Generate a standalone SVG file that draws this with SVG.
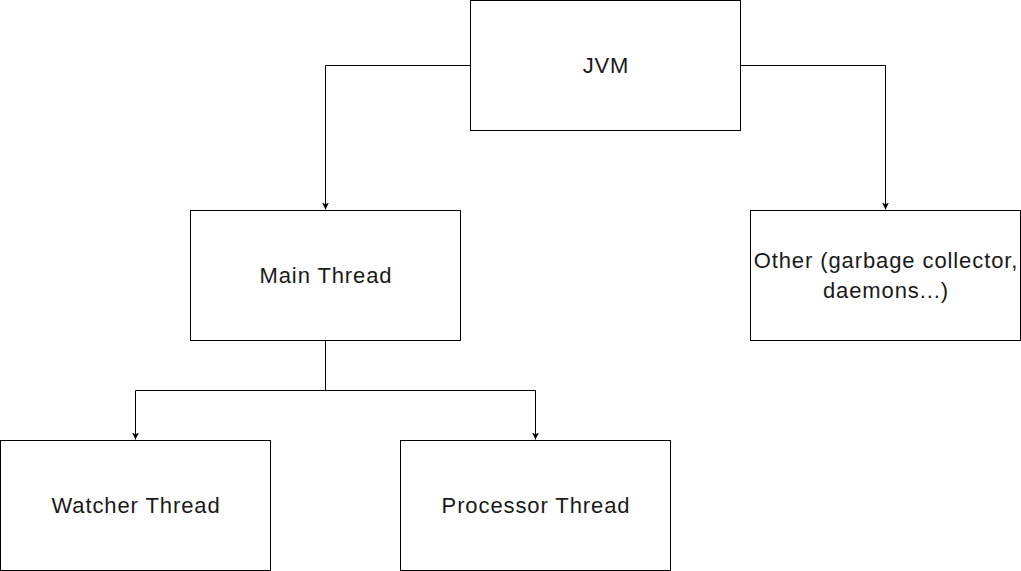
<svg xmlns="http://www.w3.org/2000/svg" width="1021" height="571" viewBox="0 0 1021 571">
<style>
.box{fill:#fff;stroke:#000;stroke-width:1}
.lbl{font-family:"Liberation Sans",Arial,Helvetica,sans-serif;font-size:22px;letter-spacing:0.9px;fill:#1a1a1a;text-anchor:middle}
.edge{fill:none;stroke:#000;stroke-width:1}
</style>
<defs>
<marker id="arr" viewBox="0 0 10 10" refX="10" refY="5" markerWidth="7" markerHeight="7" markerUnits="userSpaceOnUse" orient="auto">
<path d="M0,0 L10,5 L0,10 L2.5,5 Z" fill="#000"/>
</marker>
</defs>
<rect width="1021" height="571" fill="#fff"/>
<g id="connectors">
<path class="edge" d="M470.5,65.5 H325.5 V209.5" marker-end="url(#arr)"/>
<path class="edge" d="M740.5,65.5 H885.5 V209.5" marker-end="url(#arr)"/>
<path class="edge" d="M325.5,340.5 V390.5 H135.5 V439.5" marker-end="url(#arr)"/>
<path class="edge" d="M325.5,390.5 H535.5 V439.5" marker-end="url(#arr)"/>
</g>
<g id="jvm">
<rect class="box" x="470.5" y="0.5" width="270" height="130"/>
<text class="lbl" x="606" y="73">JVM</text>
</g>
<g id="main-thread">
<rect class="box" x="190.5" y="210.5" width="270" height="130"/>
<text class="lbl" x="326" y="283">Main Thread</text>
</g>
<g id="other">
<rect class="box" x="750.5" y="210.5" width="270" height="130"/>
<text class="lbl" x="886" y="268">Other (garbage collector,</text>
<text class="lbl" x="886" y="298">daemons...)</text>
</g>
<g id="watcher-thread">
<rect class="box" x="0.5" y="440.5" width="270" height="130"/>
<text class="lbl" x="136" y="513">Watcher Thread</text>
</g>
<g id="processor-thread">
<rect class="box" x="400.5" y="440.5" width="270" height="130"/>
<text class="lbl" x="536" y="513">Processor Thread</text>
</g>
</svg>
